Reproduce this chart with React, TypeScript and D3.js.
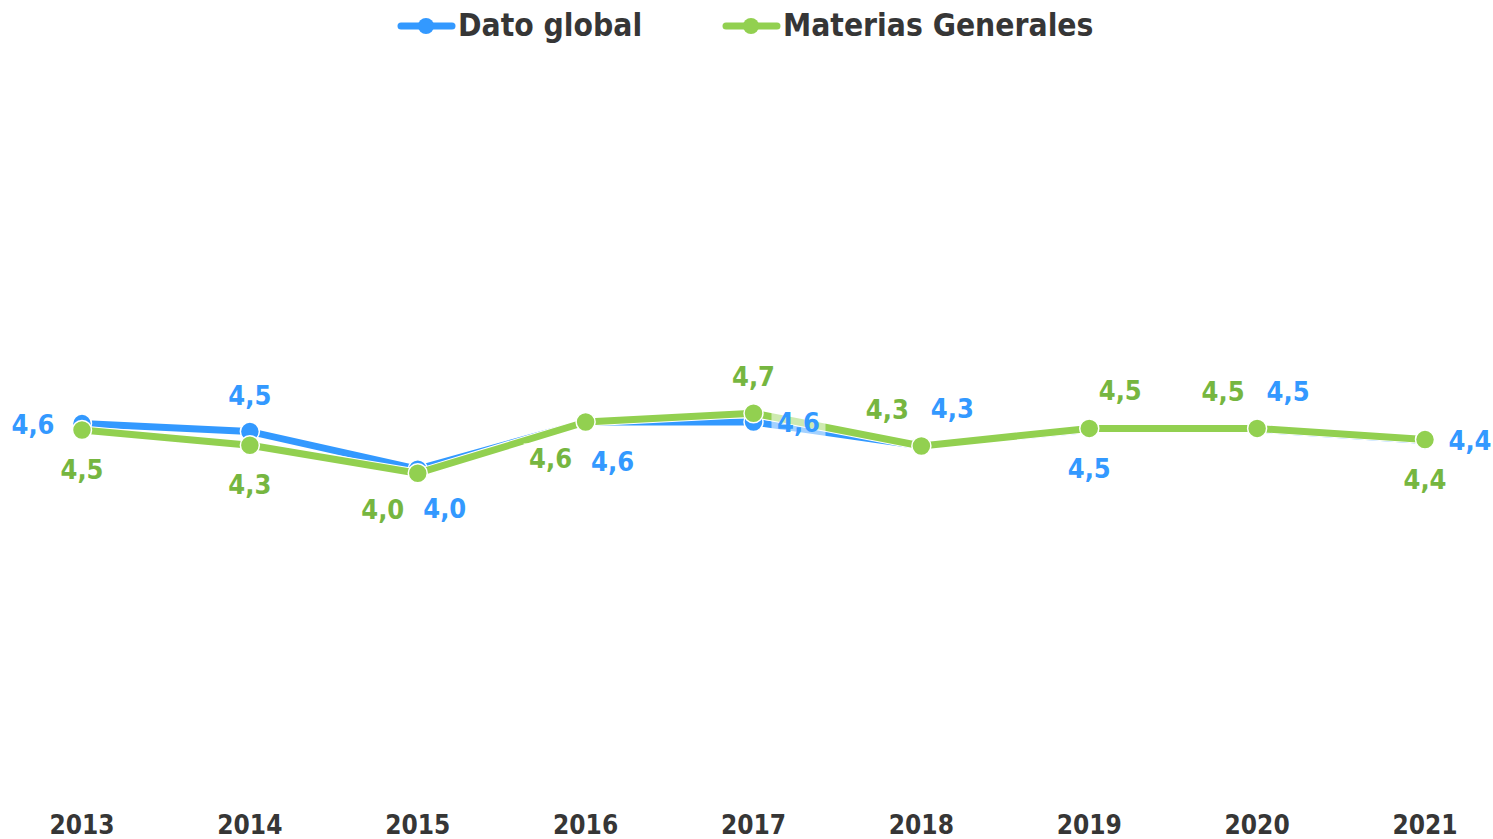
import * as d3 from "d3";

const years = ["2013", "2014", "2015", "2016", "2017", "2018", "2019", "2020", "2021"];
const datoGlobal = [4.58, 4.48, 4.01, 4.6, 4.6, 4.3, 4.51, 4.51, 4.37];
const materiasGenerales = [4.5, 4.31, 3.96, 4.6, 4.71, 4.3, 4.52, 4.52, 4.38];
const datoGlobalLabelPos = ["left", "above", "belowRight", "belowRight", "right", "aboveRight", "below", "aboveRight", "right"];
const materiasLabelPos = ["below", "below", "belowLeft", "belowLeft", "above", "aboveLeft", "aboveRight", "aboveLeft", "below"];

const seriesNames = ["Dato global", "Materias Generales"];

const WIDTH = 1493;
const HEIGHT = 839;
const FONT = "'DejaVu Sans Condensed', 'DejaVu Sans', Verdana, sans-serif";

const BLUE = "#3399ff";
const GREEN = "#92d050";
const GREEN_TEXT = "#76b640";
const TEXT = "#363636";

const offsets: Record<string, [number, number]> = {
    left: [-49, 0],
    right: [45, 0],
    above: [0, -37],
    below: [0, 39],
    aboveLeft: [-34, -37],
    aboveRight: [31, -38],
    belowLeft: [-35, 36],
    belowRight: [27, 39],
};

const fmt = (v: number) => d3.format(".1f")(v).replace(".", ",");

export default function App() {
    const x = d3.scalePoint<string>().domain(years).range([82, 1425]);
    const y = d3.scaleLinear().domain([0, 9]).range([790, 70]);

    const series = [
        { name: seriesNames[0], values: datoGlobal, pos: datoGlobalLabelPos, color: BLUE, textColor: BLUE },
        { name: seriesNames[1], values: materiasGenerales, pos: materiasLabelPos, color: GREEN, textColor: GREEN_TEXT },
    ];

    const line = d3.line<number>()
        .x((_, i) => x(years[i]) as number)
        .y(d => y(d));

    const legend = [
        { x: 398, color: BLUE, name: seriesNames[0] },
        { x: 723, color: GREEN, name: seriesNames[1] },
    ];

    return (
        <svg
            width={WIDTH}
            height={HEIGHT}
            style={{ position: "absolute", left: 0, top: 0, background: "#fff" }}
            fontFamily={FONT}
            fontWeight="bold"
        >
            {/* legend */}
            <g id="legend">
                {legend.map(l => (
                    <g key={l.name}>
                        <line x1={l.x + 3} x2={l.x + 54} y1={26} y2={26} stroke={l.color} strokeWidth={7} strokeLinecap="round" />
                        <circle cx={l.x + 28} cy={26} r={8} fill={l.color} />
                        <text x={l.x + 60} y={36} fontSize={31.5} fill={TEXT} style={{ fontStretch: "condensed" }}>{l.name}</text>
                    </g>
                ))}
            </g>

            {/* lines + markers */}
            {series.map(s => (
                <g key={s.name}>
                    <path d={line(s.values) ?? ""} fill="none" stroke="#fff" strokeWidth={9} strokeLinejoin="round" />
                    <path d={line(s.values) ?? ""} fill="none" stroke={s.color} strokeWidth={7} strokeLinejoin="round" />
                    {s.values.map((v, i) => (
                        <circle key={i} cx={x(years[i])} cy={y(v)} r={9.5} fill={s.color} stroke="#fff" strokeWidth={1.5} />
                    ))}
                </g>
            ))}

            {/* data labels */}
            {series.map(s => (
                <g key={s.name + "-labels"}>
                    {s.values.map((v, i) => {
                        const [dx, dy] = offsets[s.pos[i]];
                        const cx = (x(years[i]) as number) + dx;
                        const cy = y(v) + dy;
                        return (
                            <g key={i}>
                                <rect x={cx - 27} y={cy - 15} width={54} height={30} fill="#fff" fillOpacity={0.55} />
                                <text
                                    x={cx}
                                    y={cy + 10}
                                    textAnchor="middle"
                                    fontSize={27}
                                    fill={s.textColor}
                                    style={{ fontStretch: "condensed" }}
                                >
                                    {fmt(v)}
                                </text>
                            </g>
                        );
                    })}
                </g>
            ))}

            {/* x axis labels */}
            <g id="x-axis">
                {years.map(yr => (
                    <text key={yr} x={x(yr)} y={834} textAnchor="middle" fontSize={26} fill={TEXT} style={{ fontStretch: "condensed" }}>
                        {yr}
                    </text>
                ))}
            </g>
        </svg>
    );
}
